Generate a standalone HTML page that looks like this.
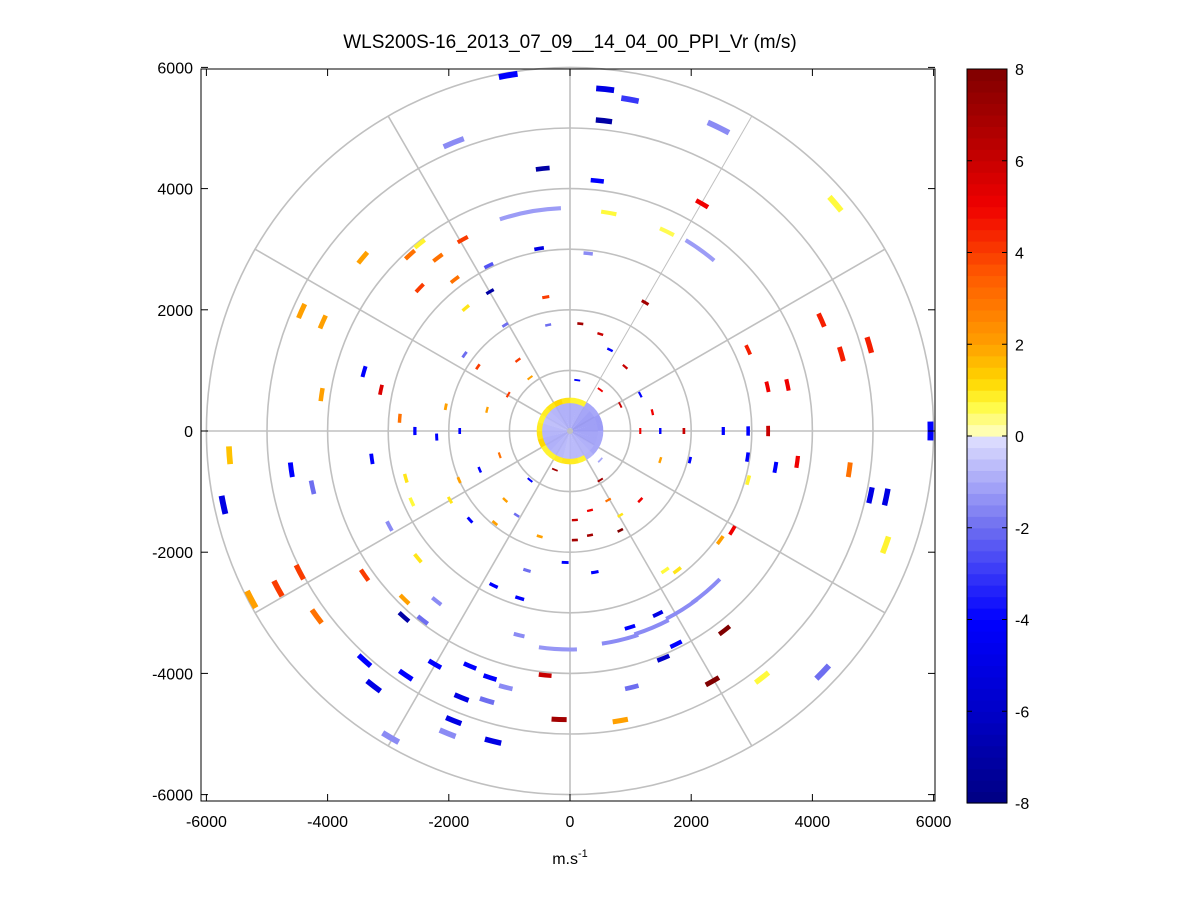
<!DOCTYPE html>
<html><head><meta charset="utf-8"><style>
html,body{margin:0;padding:0;background:#fff;}
svg{display:block;font-family:"Liberation Sans",sans-serif;}
</style></head><body>
<svg id="chart" width="1201" height="901" viewBox="0 0 1201 901">
<rect width="1201" height="901" fill="#fff"/>
<text x="570" y="48" font-size="19" text-anchor="middle">WLS200S-16_2013_07_09__14_04_00_PPI_Vr (m/s)</text>
<g id="plot"></g>
<g id="cbar"></g>
<text x="570" y="864" font-size="16" text-anchor="middle">m.s<tspan dy="-7" font-size="11">-1</tspan></text>
</svg>
<script>
// data: gate centre positions in km (east, north), radial velocity m/s
const xs=[-1.02,0.58,0.99,0.56,2.45,-1.92,-0.45,0.45,4.38,2.18,0.64,1.60,2.15,-0.66,-2.48,-1.77,-2.18,-2.64,-3.42,-1.34,-0.51,0.30,1.24,-0.40,-1.32,-2.48,-1.90,-1.72,-4.43,-4.08,4.15,4.48,4.94,2.94,3.26,3.59,-3.40,-3.12,-4.10,-2.81,-2.56,-2.20,-5.62,-3.27,-4.60,-4.25,-2.71,-2.61,-5.72,-2.98,-2.51,-3.39,-5.26,-4.82,-4.46,-4.18,-2.73,-2.20,-2.74,-2.43,-3.39,-3.24,-2.71,-2.23,-1.65,-1.32,-1.06,-1.79,-1.37,-1.92,-2.02,-1.27,-2.96,-0.84,-0.20,0.83,1.35,1.85,2.25,0.99,1.45,1.54,1.75,2.55,1.02,2.35,3.17,4.17,-0.41,-0.18,0.83,-0.83,-1.26,-0.71,0.41,1.57,1.77,2.48,2.68,2.94,2.93,3.39,3.75,4.61,4.96,5.22,5.21,2.53,2.94,3.27,5.95,
-1.74,-1.52,-0.86,-1.07,-0.36,0.17,0.50,0.66,0.91,1.16,1.36,1.88,1.49,1.16,-1.82,-2.05,-1.37,-1.02,-0.66,0.12,0.50,0.83,-1.49,-1.83,-1.07,-0.88,-0.50,-0.08,0.50,0.63,1.16,1.49,1.98,0.08,0.33,0.83,0.33,0.08,0.83,-1.16,-0.66,-0.25,0.50,-1.98,-1.65,-1.24];
const ys=[5.87,5.64,5.47,5.12,5.01,4.76,4.33,4.13,3.75,3.75,3.60,3.29,2.99,3.62,3.09,3.16,2.86,2.91,2.86,2.73,3.01,2.93,2.12,2.21,2.30,2.36,2.50,2.03,1.98,1.80,1.83,1.27,1.42,1.34,0.73,0.76,0.98,0.68,0.60,0.21,0.0,-0.10,-0.40,-0.46,-0.64,-0.93,-0.78,-1.17,-1.22,-1.57,-2.10,-2.38,-2.78,-2.60,-2.33,-3.06,-2.78,-2.81,-3.07,-3.12,-3.79,-4.21,-4.03,-3.85,-3.88,-4.07,-4.23,-4.40,-4.45,-4.78,-4.99,-5.12,-5.06,-3.37,-3.60,-3.45,-3.25,-2.95,-2.65,-3.24,-3.02,-3.75,-3.52,-3.29,-4.23,-4.13,-4.07,-3.98,-4.03,-4.76,-4.78,-2.76,-2.55,-2.30,-2.33,-2.30,-2.30,-1.80,-1.64,-0.81,-0.43,-0.60,-0.51,-0.64,-1.06,-1.09,-1.88,0,0,0,0,
1.26,1.06,1.17,1.75,1.75,1.77,1.60,1.34,1.06,0.60,0.31,0,0,0,0,0.40,0.35,0.60,0.88,0.84,0.68,0.43,-0.64,-0.81,-1.14,-1.39,-1.74,-2.17,-0.81,-1.14,-1.14,-0.48,-0.48,-1.47,-1.31,-1.39,-1.72,-1.80,-1.64,-0.40,-0.81,-0.64,-0.48,-1.14,-1.47,-1.52];
const vals=[-4,-5,-3,-7,-1.5,-1.5,-7,-4,0.7,5,0.7,0.6,-1.2,-1.2,0.8,4,3,3,2,-2.5,-5,-1.5,7,4,-7,4,3,1,2,2,4.5,4.5,4.5,4.5,5,5,-4,5.5,2,3,-4,-4,1.5,-4,-4,-2,1,0.7,-5,-1.5,1,4,2,4,4,3,2,-1.5,-7,-2,-4,-5,-4,-4,-4,-4,-1.5,-5,-2,-5,-1.5,-5,-1.5,-1.5,-1.3,-1.5,-1.5,-1.5,-1.5,-4,-5,-6,-4,8,-2,8,0.7,-2,6,7,2,-4,-4,-2,-4,0.7,1,2,5,0.8,-4,-4,5,3,-5,-5,0.8,-4,-4,6,-4,
-2,4,4,-2,-2,7,6,-4,6,-4,5,6,-4,5,-4,2,2,4,2,-4,5,6,-4,2,2,-2,2,-4,7,3,5,2,-4,6,5,1,7,7,8,3,-4,7,-1,1,-4,2];
const spans=[3,3,3,3,4,4,3,3,3,3,4,4,9,16,3,3,3,3,3,3,3,3,3,3,3,3,3,3,3,3,3,3,3,3,3,3,3,3,3,3,3,3,3,3,3,3,3,3,3,3,3,3,3,3,3,3,3,3,3,3,3,3,3,3,3,3,3,3,3,3,3,3,3,3,10,10,10,10,10,3,3,3,3,3,3,3,3,3,3,3,3,3,3,3,3,3,3,3,3,3,3,3,3,3,3,3,3,3,3,3,3,3,
3,3,3,3,3,3,3,3,3,3,3,3,3,3,3,3,3,3,3,3,3,3,3,3,3,3,3,3,3,3,3,3,3,3,3,3,3,3,3,3,3,3,3,3,3,3];
const coreVals=[-1,-1,-1.2,-1.3,-1.3,-1.3,-1.2,-1.2,-1,-0.9,-0.8,-0.8,-0.7,-0.8,-0.9,-1,-1,-0.9,-0.8,-0.7,-0.8,-0.9,-1,-1];
const ringVals=[0.8,0.8,-1,-1,-1.2,-1.2,-1,-1,-1,-0.8,0.8,0.9,1,0.9,0.8,0.8,1.2,1,0.9,0.8,0.9,1,1.2,1];
const cbTicks=[-8,-6,-4,-2,0,2,4,6,8];
const axTicks=[-6000,-4000,-2000,0,2000,4000,6000];

const NS='http://www.w3.org/2000/svg';
const CX=570,CY=431,S=60.6;
const X0=201,X1=935,Y0=69,Y1=801;
const px=x=>CX+x*S, py=y=>CY-y*S;
function mk(t,a,p){const e=document.createElementNS(NS,t);for(const k in a)e.setAttribute(k,a[k]);p.appendChild(e);return e;}
const stops=[[-8,[0,0,130]],[-6,[0,0,200]],[-4,[0,0,255]],[-2,[110,110,240]],[-0.01,[225,225,255]],[0.01,[255,255,200]],[0.7,[255,250,60]],[1.2,[255,215,0]],[2,[255,160,0]],[3.5,[255,90,0]],[5,[240,0,0]],[6.5,[180,0,0]],[8,[128,0,0]]];
function col(v){v=Math.max(-8,Math.min(8,v));for(let i=0;i<stops.length-1;i++){const[a,ca]=stops[i],[b,cb]=stops[i+1];if(v<=b){const t=(v-a)/(b-a);return 'rgb('+ca.map((c,j)=>Math.round(c+(cb[j]-c)*t)).join(',')+')';}}return 'rgb(128,0,0)';}
function arcPath(r1,r2,a1,a2){
 const P=(r,a)=>{const t=a*Math.PI/180;return [px(r*Math.sin(t)).toFixed(2),py(r*Math.cos(t)).toFixed(2)];};
 const lg=(a2-a1)>180?1:0;const p1=P(r2,a1),p2=P(r2,a2),p3=P(r1,a2),p4=P(r1,a1);
 return `M${p1} A${r2*S},${r2*S} 0 ${lg} 1 ${p2} L${p3} A${r1*S},${r1*S} 0 ${lg} 0 ${p4}Z`;}
const plot=document.getElementById('plot');
mk('rect',{x:X0,y:Y0,width:X1-X0,height:Y1-Y0,fill:'#fff'},plot);
const grid=mk('g',{},plot);


for(let r=1;r<=6;r++){const c=mk('circle',{cx:CX,cy:CY,r:r*S,fill:'none',stroke:'#c0c0c0','stroke-width':1.6},grid);

}
for(let a=0;a<360;a+=30){const t=a*Math.PI/180;const l=mk('line',{x1:CX,y1:CY,x2:px(6*Math.sin(t)),y2:py(6*Math.cos(t)),stroke:'#c0c0c0','stroke-width':a==30?1:1.6},grid);

}
const marks=mk('g',{},plot);


coreVals.forEach((v,i)=>{const p=mk('path',{d:arcPath(0.05,0.47,i*15,i*15+15.5),fill:col(v),opacity:0.9},marks);

});
ringVals.forEach((v,i)=>{const p=mk('path',{d:arcPath(0.46,0.55,i*15,i*15+15.5),fill:col(v)},marks);

});
xs.forEach((x,i)=>{const y=ys[i];const r=Math.hypot(x,y);let az=Math.atan2(x,y)*180/Math.PI;if(az<0)az+=360;
 const th=(1.2+r*0.8)/S/2;let sp=spans[i];if(r<2.5)sp=Math.max(sp,6/(r*S)*180/Math.PI);
 const p=mk('path',{d:arcPath(r-th,r+th,az-sp/2,az+sp/2),fill:col(vals[i])},marks);
 
 });
const fr=mk('rect',{x:X0,y:Y0,width:X1-X0,height:Y1-Y0,fill:'none',stroke:'#000','stroke-width':1},plot);


axTicks.forEach(v=>{const x=px(v/1000);
 mk('line',{x1:x,y1:Y1,x2:x,y2:Y1-7,stroke:'#000'},plot);mk('line',{x1:x,y1:Y0,x2:x,y2:Y0+7,stroke:'#000'},plot);
 const t=mk('text',{x:x,y:827,'font-size':16,'text-anchor':'middle'},plot);t.textContent=v;
 
 
 const y=py(v/1000);
 mk('line',{x1:X0,y1:y,x2:X0+7,y2:y,stroke:'#000'},plot);mk('line',{x1:X1,y1:y,x2:X1-7,y2:y,stroke:'#000'},plot);
 const u=mk('text',{x:193,y:y+6,'font-size':16,'text-anchor':'end'},plot);u.textContent=v;
 
 });
const cb=document.getElementById('cbar');const CB0=69,CB1=803,CBX=967,CBW=40,N=64;
for(let i=0;i<N;i++){const v=-8+(i+0.5)*16/N;const h=(CB1-CB0)/N;const r=mk('rect',{x:CBX,y:CB1-(i+1)*h,width:CBW,height:h+0.6,fill:col(v)},cb);

}
mk('rect',{x:CBX,y:CB0,width:CBW,height:CB1-CB0,fill:'none',stroke:'#000'},cb);
cbTicks.forEach(v=>{const y=CB1-(v+8)/16*(CB1-CB0);
 mk('line',{x1:CBX,y1:y,x2:CBX+5,y2:y,stroke:'#000'},cb);mk('line',{x1:CBX+CBW,y1:y,x2:CBX+CBW-5,y2:y,stroke:'#000'},cb);
 const t=mk('text',{x:1015,y:y+6,'font-size':16},cb);t.textContent=v;
 
 });
</script>
</body></html>
